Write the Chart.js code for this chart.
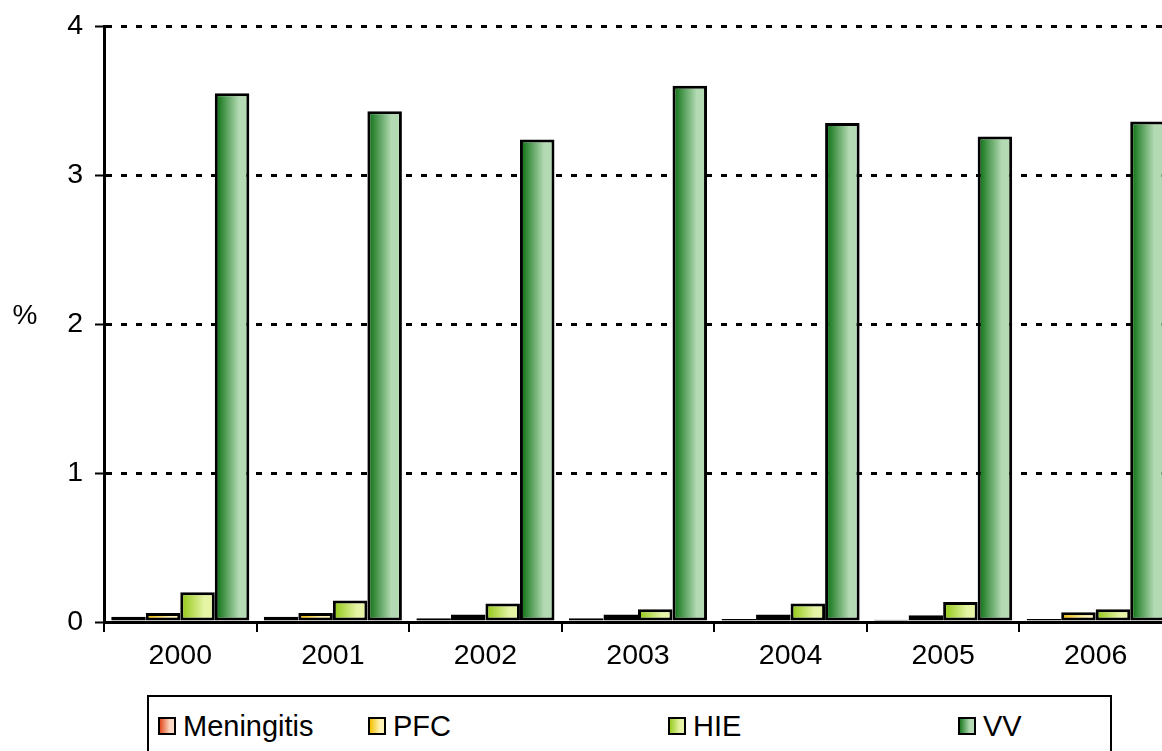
<!DOCTYPE html>
<html>
<head>
<meta charset="utf-8">
<script src="https://cdn.jsdelivr.net/npm/chart.js@4.4.0/dist/chart.umd.min.js"></script>
<style>
    body { margin: 0; overflow: hidden; background: #fff; font-family: "Liberation Sans", Arial, sans-serif; }
    #wrap { position: absolute; left: 0; top: 0; width: 1172px; height: 751px; }
    #legend { position: absolute; left: 147px; top: 695px; width: 961px; height: 54px; border: 2px solid #000; background: #fff; }
    .item { position: absolute; top: 14px; font-size: 29px; line-height: 30px; color: #000; white-space: nowrap; }
    .swatch { display: inline-block; width: 14px; height: 14px; border: 2px solid #000; vertical-align: 1px; margin-right: 7px; }
</style>
</head>
<body>
<div id="wrap"><canvas id="chart"></canvas></div>
<div id="legend"></div>
<script>
// -------------------------------
// DATA
// -------------------------------
const years = ["2000", "2001", "2002", "2003", "2004", "2005", "2006"];
const seriesNames = ["Meningitis", "PFC", "HIE", "VV"];

const meningitis = [0.035, 0.035, 0.025, 0.025, 0.02, 0.015, 0.02];
const pfc = [0.06, 0.06, 0.05, 0.05, 0.05, 0.045, 0.065];
const hie = [0.2, 0.145, 0.125, 0.085, 0.125, 0.135, 0.085];
const vv = [3.55, 3.43, 3.24, 3.60, 3.35, 3.26, 3.36];

const yTicks = [0, 1, 2, 3, 4];

// gradient colours, dark (left) -> light (right)
const darkColors = ["#e24a1f", "#f5c000", "#99cc22", "#1c7a22"];
const lightColors = ["#fcd8c4", "#fff3b5", "#e6f4a6", "#b3dab3"];

const allSeries = [meningitis, pfc, hie, vv];

// -------------------------------
// PLUGINS
// -------------------------------
// horizontal gradient inside every bar (own options object per bar, the resolved ones are shared)
const barGradient = {
    id: "barGradient",
    beforeDatasetsDraw(chart) {
        const ctx = chart.ctx;
        chart.data.datasets.forEach((ds, i) => {
            chart.getDatasetMeta(i).data.forEach(bar => {
                const left = bar.x - bar.width / 2;
                const g = ctx.createLinearGradient(left, 0, left + bar.width, 0);
                g.addColorStop(0, darkColors[i]);
                g.addColorStop(0.1, darkColors[i]);
                g.addColorStop(0.7, lightColors[i]);
                g.addColorStop(1, lightColors[i]);
                bar.options = Object.assign({}, bar.options, { backgroundColor: g });
            });
        });
    }
};

// the "%" unit at the left, not rotated
const unitLabel = {
    id: "unitLabel",
    afterDraw(chart) {
        const ctx = chart.ctx;
        const area = chart.chartArea;
        ctx.save();
        ctx.font = "28px 'Liberation Sans', Arial, sans-serif";
        ctx.fillStyle = "#000";
        ctx.textAlign = "center";
        ctx.textBaseline = "middle";
        ctx.fillText("%", 25, (area.top + area.bottom) / 2 - 8);
        ctx.restore();
    }
};

// -------------------------------
// CHART
// -------------------------------
const datasets = seriesNames.map((name, i) => ({
    label: name,
    data: allSeries[i],
    backgroundColor: darkColors[i],
    borderColor: "#000",
    borderWidth: 3,
    borderSkipped: false,
    categoryPercentage: 0.905,
    barPercentage: 1
}));

new Chart(document.getElementById("chart"), {
    type: "bar",
    data: { labels: years, datasets: datasets },
    plugins: [barGradient, unitLabel],
    options: {
        responsive: true,
        maintainAspectRatio: false,
        animation: false,
        layout: { padding: { top: 25, right: 0, bottom: 0, left: 0 } },
        plugins: { legend: { display: false }, tooltip: { enabled: false } },
        scales: {
            x: {
                afterFit: scale => { scale.height = 129; },
                grid: { display: true, drawOnChartArea: false, drawTicks: true, offset: true, tickLength: 10, color: "#000", lineWidth: 2 },
                border: { display: true, color: "#000", width: 3 },
                ticks: { color: "#000", padding: 7, maxRotation: 0, font: { family: "'Liberation Sans', Arial, sans-serif", size: 28.5 } }
            },
            y: {
                min: 0,
                max: 4,
                afterFit: scale => { scale.width = 104; },
                afterBuildTicks: scale => { scale.ticks = yTicks.map(v => ({ value: v })); },
                grid: { color: "#000", lineWidth: 3, tickLength: 9, tickWidth: 2, tickBorderDash: [] },
                border: { display: true, color: "#000", width: 3, dash: [6, 9] },
                ticks: { color: "#000", padding: 12, font: { family: "'Liberation Sans', Arial, sans-serif", size: 28.5, lineHeight: 1 } }
            }
        }
    }
});

// -------------------------------
// LEGEND (boxed, built from the series arrays)
// -------------------------------
const legendLeft = [9, 219, 519, 809];
const legendEl = document.getElementById("legend");
seriesNames.forEach((name, i) => {
    const item = document.createElement("div");
    item.className = "item";
    item.style.left = legendLeft[i] + "px";
    const sw = document.createElement("span");
    sw.className = "swatch";
    sw.style.background = "linear-gradient(to right, " + darkColors[i] + ", " + lightColors[i] + " 70%)";
    item.appendChild(sw);
    item.appendChild(document.createTextNode(name));
    legendEl.appendChild(item);
});
</script>
</body>
</html>
